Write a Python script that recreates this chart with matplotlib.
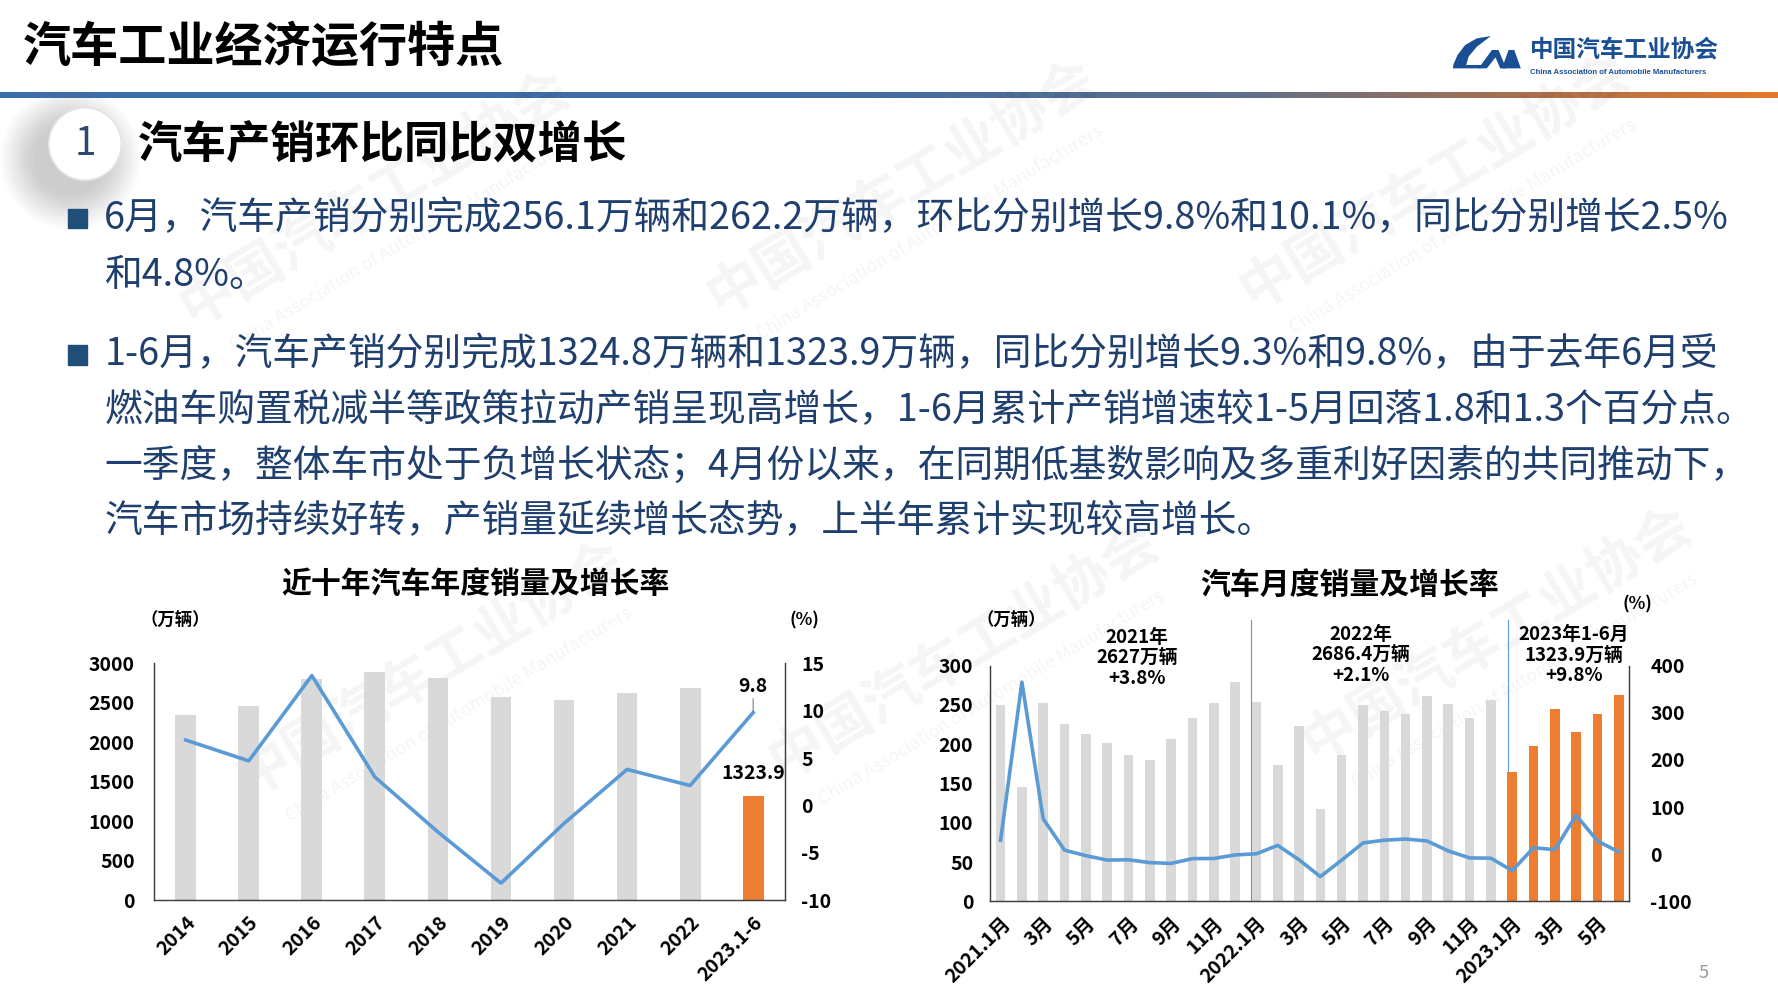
import numpy as np
import matplotlib.pyplot as plt
from matplotlib.patches import Circle, Rectangle, Polygon
from matplotlib.colors import LinearSegmentedColormap

plt.rcParams['font.family'] = ['Noto Sans CJK SC', 'DejaVu Sans']

# ---- annual sales (万辆) and growth (%) ----
years = ['2014', '2015', '2016', '2017', '2018', '2019', '2020', '2021', '2022', '2023.1-6']
year_sales = [2349.2, 2459.8, 2802.8, 2887.9, 2808.1, 2576.9, 2531.1, 2627.5, 2686.4, 1323.9]
year_growth = [6.9, 4.7, 13.7, 3.0, -2.8, -8.2, -1.9, 3.8, 2.1, 9.8]

# ---- monthly sales (万辆) and yoy growth (%) ----
month_labels = ['2021.1月', '2月', '3月', '4月', '5月', '6月', '7月', '8月', '9月', '10月', '11月', '12月',
                '2022.1月', '2月', '3月', '4月', '5月', '6月', '7月', '8月', '9月', '10月', '11月', '12月',
                '2023.1月', '2月', '3月', '4月', '5月', '6月']
month_sales = [250.3, 145.5, 252.6, 225.2, 212.8, 201.5, 186.4, 179.9, 206.7, 233.3, 252.2, 278.6,
               253.1, 173.7, 223.4, 118.1, 186.2, 250.2, 242.0, 238.3, 261.0, 250.5, 232.9, 255.6,
               164.9, 197.6, 245.1, 215.9, 238.2, 262.2]
month_growth = [29.5, 364.9, 74.9, 8.6, -3.1, -12.4, -11.9, -17.8, -19.6, -9.4, -9.1, -1.6,
                0.9, 18.7, -11.7, -47.6, -12.6, 23.8, 29.7, 32.1, 28.1, 6.9, -7.9, -8.4,
                -35.0, 13.8, 9.7, 82.7, 27.9, 4.8]
year_notes = ['2021年\n2627万辆\n+3.8%', '2022年\n2686.4万辆\n+2.1%', '2023年1-6月\n1323.9万辆\n+9.8%']

body_lines = [
    '6月，汽车产销分别完成256.1万辆和262.2万辆，环比分别增长9.8%和10.1%，同比分别增长2.5%',
    '和4.8%。',
    '1-6月，汽车产销分别完成1324.8万辆和1323.9万辆，同比分别增长9.3%和9.8%，由于去年6月受',
    '燃油车购置税减半等政策拉动产销呈现高增长，1-6月累计产销增速较1-5月回落1.8和1.3个百分点。',
    '一季度，整体车市处于负增长状态；4月份以来，在同期低基数影响及多重利好因素的共同推动下，',
    '汽车市场持续好转，产销量延续增长态势，上半年累计实现较高增长。',
]

GRAY = '#D9D9D9'
ORANGE = '#ED7D31'
BLUE = '#5B9BD5'
NAVY = '#1F3F6E'

W, H = 1568, 882   # layout units


def rect(x0, y0, x1, y1):
    return [x0 / W, 1 - y1 / H, (x1 - x0) / W, (y1 - y0) / H]


fig = plt.figure(figsize=(17.78, 10), dpi=100)
bg = fig.add_axes([0, 0, 1, 1])
bg.axis('off')

# gradient rule under the header
cmap = LinearSegmentedColormap.from_list('rule', [(0, '#3A6EAA'), (0.45, '#3F6DA5'), (0.7, '#5E6F8A'),
                                                  (0.85, '#A5704F'), (1, '#E5782A')])
bg.imshow(np.linspace(0, 1, 256)[None, :], cmap=cmap, extent=(0, W, 86.5, 82), aspect='auto')
bg.set_xlim(0, W)
bg.set_ylim(H, 0)

# watermarks
for cx, cy in [(330, 175), (795, 165), (1265, 160), (380, 590), (850, 575), (1320, 560)]:
    bg.text(cx, cy, '中国汽车工业协会', fontsize=40, weight='bold', color='#000000', alpha=0.045,
            rotation=31, ha='center', va='center', rotation_mode='anchor')
    bg.text(cx + 25, cy + 40, 'China Association of Automobile Manufacturers', fontsize=13,
            color='#000000', alpha=0.045, rotation=31, ha='center', va='center', rotation_mode='anchor')

# header
bg.text(20, 42, '汽车工业经济运行特点', fontsize=34.7, weight='bold', va='center', ha='left')
logo_c = '#1B4F93'
bg.add_patch(Polygon([(1314.8, 31.8), (1302.4, 33.8), (1292.1, 39.7), (1285.4, 48.5), (1281.8, 56.7),
                      (1281.3, 60.3), (1305.4, 60.3), (1306.8, 57.3), (1293.0, 57.3), (1295.1, 50.0),
                      (1302.4, 41.2)], closed=True, color=logo_c, lw=0))
bg.add_patch(Polygon([(1303.9, 60.3), (1315.7, 44.1), (1321.5, 44.1), (1328.3, 60.3), (1323.0, 60.3),
                      (1318.9, 50.6), (1311.2, 60.3)], closed=True, color=logo_c, lw=0))
bg.add_patch(Polygon([(1324.5, 60.3), (1330.4, 44.1), (1335.4, 44.1), (1341.2, 60.3)], closed=True,
                     color=logo_c, lw=0))
bg.text(1349, 44, '中国汽车工业协会', fontsize=17, weight='bold', color=logo_c, va='center', ha='left')
bg.text(1349, 64, 'China Association of Automobile Manufacturers', fontsize=5.6, weight='bold',
        color=logo_c, va='center', ha='left', family='Liberation Sans')

# section heading with shaded disc
for i in range(18):
    bg.add_patch(Circle((62, 140), 62 - i * 1.8, color='#808080', alpha=0.025, lw=0))
bg.add_patch(Circle((75, 127), 32, facecolor='white', edgecolor='#E4E4E4', lw=1.2))
bg.text(75, 127, '1', fontsize=28, color='#2B4A6F', ha='center', va='center', weight='light')
bg.text(122, 128, '汽车产销环比同比双增长', fontsize=32, weight='bold', va='center', ha='left')

# bullets and body text
for by in [193, 313]:
    bg.add_patch(Rectangle((60, by - 8.5), 17, 17, color='#1F4E79'))
for ty, line in zip([193, 243, 313, 362, 411, 460], body_lines):
    bg.text(92, ty, line, fontsize=27.2, color=NAVY, va='center', ha='left', weight='light')

bg.text(1502, 858, '5', fontsize=13, color='#9A9A9A', ha='center', va='center')

tick_font = dict(fontsize=14, weight='bold')

# ---------------- left chart: annual ----------------
ax1 = fig.add_axes(rect(136, 585, 692, 794))
x1 = np.arange(len(years))
ax1.bar(x1, year_sales, width=0.33, color=[GRAY] * (len(years) - 1) + [ORANGE], zorder=2)
ax1.set_xlim(-0.5, len(years) - 0.5)
ax1.set_ylim(0, 3000)
ax1.set_yticks(range(0, 3001, 500))
ax1.set_xticks(x1)
ax1.set_xticklabels(years, rotation=45, ha='right', va='top', rotation_mode='anchor', **tick_font)
ax1.set_yticklabels([str(v) for v in range(0, 3001, 500)], **tick_font)
ax1.tick_params(axis='y', length=0, pad=14)
ax1.tick_params(axis='x', length=0, pad=9)
ax1r = ax1.twinx()
ax1r.plot(x1, year_growth, color=BLUE, lw=2.6, zorder=3)
ax1r.set_ylim(-10, 15)
ax1r.set_yticks(range(-10, 16, 5))
ax1r.set_yticklabels([str(v) for v in range(-10, 16, 5)], **tick_font)
ax1r.tick_params(axis='y', length=0, pad=12)
for a in (ax1, ax1r):
    a.patch.set_visible(False)
    a.spines['top'].set_visible(False)
    for s in ('left', 'right', 'bottom'):
        a.spines[s].set_color('#404040')
        a.spines[s].set_linewidth(0.9)
ax1r.annotate(f'{year_growth[-1]}', (x1[-1], year_growth[-1]), xytext=(0, 19), textcoords='offset points',
              ha='center', va='center', **tick_font)
ax1r.annotate('', (x1[-1], year_growth[-1]), xytext=(0, 10), textcoords='offset points',
              arrowprops=dict(arrowstyle='-', color='#808080', lw=0.8, shrinkA=0, shrinkB=1))
ax1.annotate(f'{year_sales[-1]}', (x1[-1], year_sales[-1]), xytext=(0, 16), textcoords='offset points',
             ha='center', va='center', **tick_font)
ax1.set_title('近十年汽车年度销量及增长率', fontsize=21.5, weight='bold', x=0.51, y=1.26)
ax1.text(0.034, 1.18, '（万辆）', transform=ax1.transAxes, fontsize=12.5, weight='bold',
         ha='center', va='center')
ax1.text(1.032, 1.18, '(%)', transform=ax1.transAxes, fontsize=12.5, weight='bold',
         ha='center', va='center')

# ---------------- right chart: monthly ----------------
ax2 = fig.add_axes(rect(873, 587, 1437, 795))
x2 = np.arange(len(month_labels))
bar_colors = [ORANGE if i >= 24 else GRAY for i in range(len(month_labels))]
ax2.bar(x2, month_sales, width=0.45, color=bar_colors, zorder=2)
ax2.set_xlim(-0.5, len(month_labels) - 0.5)
ax2.set_ylim(0, 300)
ax2.set_yticks(range(0, 301, 50))
ax2.set_yticklabels([str(v) for v in range(0, 301, 50)], **tick_font)
ax2.set_xticks(x2[::2])
ax2.set_xticklabels(month_labels[::2], rotation=45, ha='right', va='top', rotation_mode='anchor',
                    **tick_font)
ax2.tick_params(axis='y', length=0, pad=12)
ax2.tick_params(axis='x', length=0, pad=9)
for xd in (11.75, 23.8):
    ax2.plot([xd, xd], [0, 358], color=BLUE, lw=0.8, clip_on=False, zorder=1)
ax2r = ax2.twinx()
ax2r.plot(x2, month_growth, color=BLUE, lw=2.6, zorder=3)
ax2r.set_ylim(-100, 400)
ax2r.set_yticks(range(-100, 401, 100))
ax2r.set_yticklabels([str(v) for v in range(-100, 401, 100)], **tick_font)
ax2r.tick_params(axis='y', length=0, pad=15)
for a in (ax2, ax2r):
    a.patch.set_visible(False)
    a.spines['top'].set_visible(False)
    for s in ('left', 'right', 'bottom'):
        a.spines[s].set_color('#404040')
        a.spines[s].set_linewidth(0.9)
for nx, ny, note in zip([6.4, 16.9, 26.9], [310, 314, 313], year_notes):
    ax2.text(nx, ny, note, ha='center', va='center', fontsize=13.5, weight='bold', linespacing=1.1,
             clip_on=False)
ax2.set_title('汽车月度销量及增长率', fontsize=21.5, weight='bold', x=0.562, y=1.27)
ax2.text(0.034, 1.19, '（万辆）', transform=ax2.transAxes, fontsize=12.5, weight='bold',
         ha='center', va='center')
ax2.text(1.012, 1.26, '(%)', transform=ax2.transAxes, fontsize=12.5, weight='bold',
         ha='center', va='center')

fig.savefig('out.png', dpi=100)
